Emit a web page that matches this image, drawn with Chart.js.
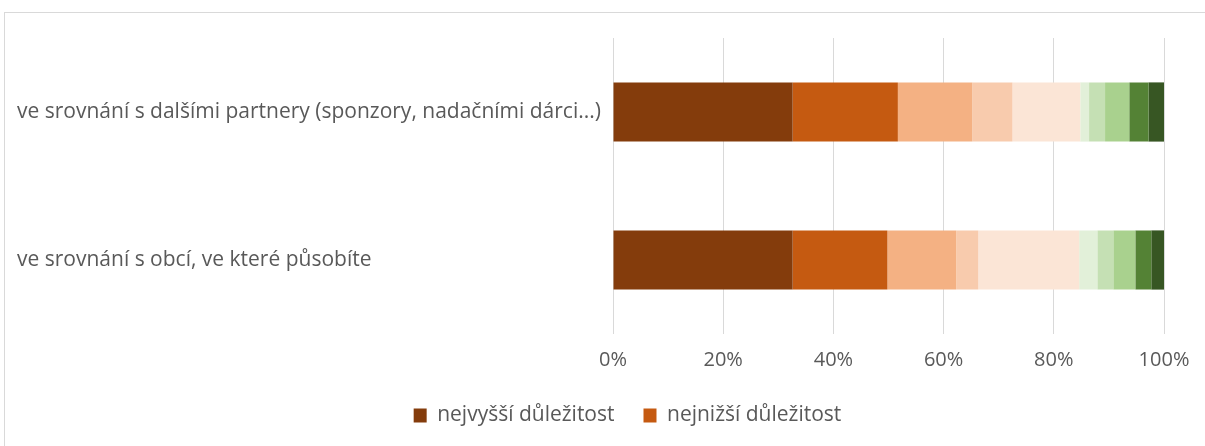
<!DOCTYPE html>
<html>
<head>
<meta charset="utf-8">
<script src="https://cdn.jsdelivr.net/npm/chart.js@4/dist/chart.umd.min.js"></script>
<style>
html,body{margin:0;padding:0;background:#fff;}
#frame{position:absolute;left:4px;top:12px;width:1210px;height:450px;border:1px solid #d9d9d9;box-sizing:border-box;}
#wrap{position:absolute;left:0;top:0;width:1205px;height:446px;}
</style>
</head>
<body>
<div id="frame"></div>
<div id="wrap"><canvas id="c" width="1205" height="446"></canvas></div>
<script>
const categories = [
  "ve srovnání s dalšími partnery (sponzory, nadačními dárci...)",
  "ve srovnání s obcí, ve které působíte"
];
const seriesNames = ["nejvyšší důležitost", "nejnižší důležitost", "", "", "", "", "", "", "", ""];
const s1 = [32.6, 32.6];
const s2 = [19.1, 17.2];
const s3 = [13.5, 12.5];
const s4 = [7.3, 4.0];
const s5 = [12.3, 18.3];
const s6 = [1.6, 3.3];
const s7 = [2.9, 2.9];
const s8 = [4.4, 4.0];
const s9 = [3.5, 2.9];
const s10 = [2.8, 2.3];
const seriesValues = [s1, s2, s3, s4, s5, s6, s7, s8, s9, s10];
const tickValues = [0, 20, 40, 60, 80, 100];

const colors = ["#843C0C", "#C55A11", "#F4B183", "#F8CBAD", "#FBE5D6",
                "#E2F0D9", "#C5E0B4", "#A9D18E", "#548235", "#375623"];

const datasets = seriesValues.map((vals, i) => ({
  label: seriesNames[i],
  data: vals,
  backgroundColor: colors[i],
  borderWidth: 0,
  barPercentage: 0.4,
  categoryPercentage: 1.0
}));

const FONT = "'Open Sans', 'Noto Sans', sans-serif";

const legendShift = {
  id: 'legendShift',
  afterLayout(chart) {
    const lg = chart.legend;
    if (lg) { lg.left += 37; lg.right += 37; }
  }
};

new Chart(document.getElementById('c'), {
  type: 'bar',
  data: { labels: categories, datasets: datasets },
  plugins: [legendShift],
  options: {
    indexAxis: 'y',
    responsive: false,
    animation: false,
    layout: { padding: { left: 17, right: 41, top: 38, bottom: 10 } },
    plugins: {
      tooltip: { enabled: false },
      legend: {
        position: 'bottom',
        labels: {
          filter: (item) => item.text !== "",
          boxWidth: 13,
          boxHeight: 14,
          padding: 29,
          color: '#595959',
          font: { family: FONT, size: 21 }
        }
      }
    },
    scales: {
      x: {
        stacked: true,
        min: 0,
        max: 100,
        afterBuildTicks: (axis) => { axis.ticks = tickValues.map(v => ({ value: v })); },
        afterFit: (scale) => { scale.height = 42; },
        ticks: {
          callback: (v) => v + '%',
          color: '#595959',
          font: { family: FONT, size: 20 },
          padding: 14
        },
        grid: { color: '#d9d9d9', lineWidth: 1, drawTicks: false },
        border: { display: false }
      },
      y: {
        stacked: true,
        afterFit: (scale) => { scale.width = 613 - 17; },
        ticks: {
          crossAlign: 'far',
          color: '#595959',
          font: { family: FONT, size: 21 },
          padding: 14
        },
        grid: { display: false, drawTicks: false },
        border: { display: false }
      }
    }
  }
});
</script>
</body>
</html>
